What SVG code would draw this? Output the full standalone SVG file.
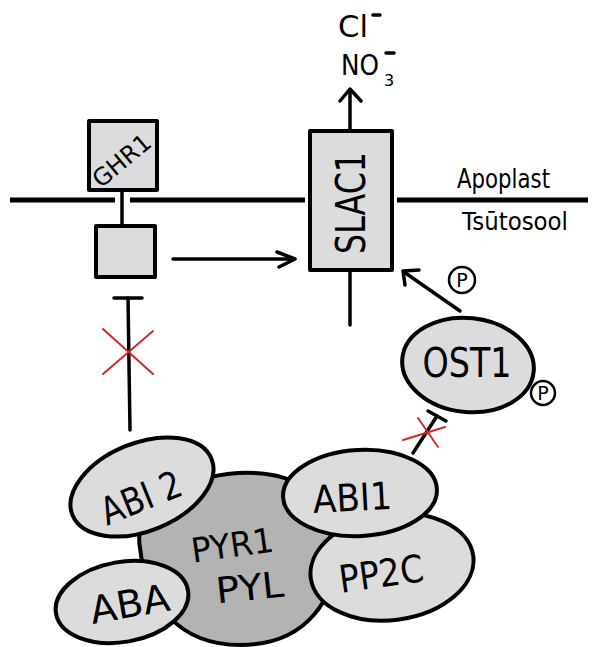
<svg xmlns="http://www.w3.org/2000/svg" width="597" height="647" viewBox="0 0 597 647">
  <style>
    .lbl { font-family: "DejaVu Sans", "Liberation Sans", sans-serif; fill: #000; }
    .box { fill: #dcdcdc; stroke: #000; stroke-width: 4; stroke-linejoin: round; }
    .lt { fill: #dcdcdc; stroke: #000; stroke-width: 4; }
    .dk { fill: #b3b3b3; stroke: #000; stroke-width: 4; }
    .ln { fill: none; stroke: #000; stroke-width: 3.5; stroke-linecap: round; stroke-linejoin: round; }
    .mem { fill: none; stroke: #000; stroke-width: 5; }
    .x { fill: none; stroke: #d42a2a; stroke-width: 2; stroke-linecap: round; }
    .pc { fill: #fff; stroke: #000; stroke-width: 2.5; }
  </style>

  <!-- membrane -->
  <g id="membrane">
    <line class="mem" x1="10" y1="200" x2="115" y2="200"/>
    <line class="mem" x1="130" y1="200" x2="305" y2="200"/>
    <line class="mem" x1="397" y1="200" x2="588" y2="200"/>
    <text class="lbl" x="457" y="188" font-size="26" textLength="93" lengthAdjust="spacingAndGlyphs">Apoplast</text>
    <text class="lbl" x="462" y="230" font-size="24" textLength="106" lengthAdjust="spacingAndGlyphs">Tsūtosool</text>
  </g>

  <!-- connectors -->
  <g id="connectors">
    <!-- GHR1 stem -->
    <line class="ln" x1="122" y1="190" x2="122" y2="226"/>
    <!-- SLAC1 efflux arrow -->
    <line class="ln" x1="350" y1="131" x2="350" y2="90"/>
    <polyline class="ln" points="340,101 350,89 361,101"/>
    <!-- SLAC1 lower tail -->
    <line class="ln" x1="350" y1="270" x2="350" y2="325"/>
    <!-- activation arrow to SLAC1 -->
    <line class="ln" x1="173" y1="259" x2="294" y2="259"/>
    <polyline class="ln" points="277,252 295,259 279,267"/>
    <!-- inhibition from ABI2 (blocked) -->
    <line class="ln" x1="130" y1="430" x2="128" y2="298"/>
    <line class="ln" x1="114" y1="298" x2="142" y2="298"/>
    <line class="x" x1="103" y1="329" x2="153" y2="374"/>
    <line class="x" x1="153" y1="331" x2="103" y2="374"/>
    <!-- phosphorylation arrow OST1 -> SLAC1 -->
    <line class="ln" x1="460" y1="311" x2="404" y2="272"/>
    <polyline class="ln" points="419,270 403,271 405,285"/>
    <!-- inhibition from ABI1 (blocked) -->
    <line class="ln" x1="413" y1="453" x2="437" y2="416"/>
    <line class="ln" x1="428" y1="411" x2="446" y2="421"/>
    <line class="x" x1="403" y1="440" x2="445" y2="427"/>
    <line class="x" x1="418" y1="418" x2="438" y2="447"/>
  </g>

  <!-- ion labels -->
  <g id="ions">
    <text class="lbl" x="338" y="37" font-size="30" textLength="30" lengthAdjust="spacingAndGlyphs">Cl</text>
    <line class="ln" x1="373" y1="15" x2="380" y2="15" stroke-width="3"/>
    <text class="lbl" x="341" y="75" font-size="28" textLength="38" lengthAdjust="spacingAndGlyphs">NO</text>
    <text class="lbl" x="384" y="86" font-size="16">3</text>
    <line class="ln" x1="386" y1="53" x2="394" y2="53" stroke-width="3"/>
  </g>

  <!-- GHR1 receptor -->
  <g id="ghr1">
    <rect class="box" x="89" y="121" width="68" height="69"/>
    <text class="lbl" x="0" y="0" font-size="24" text-anchor="middle" textLength="68" lengthAdjust="spacingAndGlyphs" transform="translate(127,167) rotate(-40)">GHR1</text>
  </g>

  <!-- GHR1 cytosolic domain -->
  <g id="ghr1-kinase">
    <rect class="box" x="96" y="226" width="59" height="51"/>
  </g>

  <!-- SLAC1 channel -->
  <g id="slac1">
    <rect class="box" x="310" y="131" width="82" height="139"/>
    <text class="lbl" x="0" y="0" font-size="40" text-anchor="middle" textLength="102" lengthAdjust="spacingAndGlyphs" transform="translate(365,203) rotate(-90)">SLAC1</text>
  </g>

  <!-- OST1 kinase -->
  <g id="ost1">
    <ellipse class="lt" cx="468" cy="365" rx="66" ry="47" transform="rotate(6 468 365)"/>
    <text class="lbl" x="467" y="377" font-size="40" text-anchor="middle" textLength="89" lengthAdjust="spacingAndGlyphs">OST1</text>
    <circle class="pc" cx="543" cy="393" r="12"/>
    <text class="lbl" x="543" y="400" font-size="19" text-anchor="middle">P</text>
  </g>

  <!-- phosphate on arrow -->
  <g id="phospho">
    <circle class="pc" cx="462" cy="280" r="13"/>
    <text class="lbl" x="462" y="287" font-size="19" text-anchor="middle">P</text>
  </g>

  <!-- PYR1/PYL receptor complex -->
  <g id="pyr1">
    <path class="dk" d="M140,548 C132,505 185,477 238,473 C295,470 332,495 335,540 C340,600 305,645 240,645 C178,645 146,602 140,548 Z"/>
    <text class="lbl" x="0" y="0" font-size="34" text-anchor="middle" textLength="83" lengthAdjust="spacingAndGlyphs" transform="translate(234,557) rotate(-8)">PYR1</text>
    <text class="lbl" x="0" y="0" font-size="36" text-anchor="middle" textLength="68" lengthAdjust="spacingAndGlyphs" transform="translate(251,600) rotate(-6)">PYL</text>
  </g>

  <g id="abi2">
    <ellipse class="lt" cx="142" cy="487" rx="75" ry="44" transform="rotate(-22 142 487)"/>
    <text class="lbl" x="0" y="0" font-size="38" text-anchor="middle" textLength="84" lengthAdjust="spacingAndGlyphs" transform="translate(146,510) rotate(-22)">ABI 2</text>
  </g>

  <g id="aba">
    <ellipse class="lt" cx="122" cy="602" rx="67" ry="40" transform="rotate(-10 122 602)"/>
    <text class="lbl" x="0" y="0" font-size="38" text-anchor="middle" textLength="80" lengthAdjust="spacingAndGlyphs" transform="translate(132,617) rotate(-10)">ABA</text>
  </g>

  <g id="pp2c">
    <ellipse class="lt" cx="392" cy="567" rx="82" ry="53" transform="rotate(-8 392 567)"/>
    <text class="lbl" x="0" y="0" font-size="38" text-anchor="middle" textLength="85" lengthAdjust="spacingAndGlyphs" transform="translate(383,587) rotate(-8)">PP2C</text>
  </g>

  <g id="abi1">
    <ellipse class="lt" cx="360" cy="493" rx="77" ry="43" transform="rotate(-3 360 493)"/>
    <text class="lbl" x="0" y="0" font-size="38" text-anchor="middle" textLength="79" lengthAdjust="spacingAndGlyphs" transform="translate(353,511) rotate(-3)">ABI1</text>
  </g>
</svg>
